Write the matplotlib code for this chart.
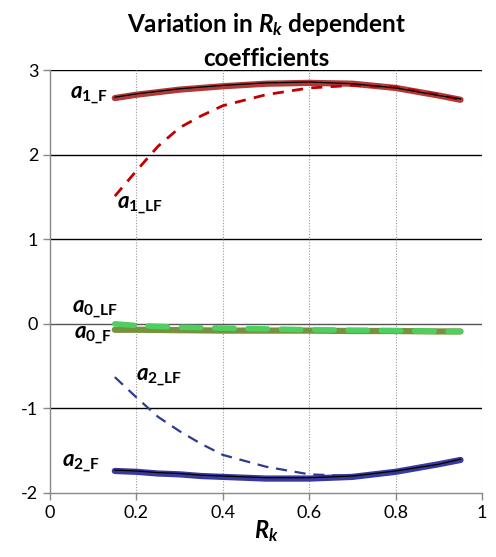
import matplotlib
matplotlib.use("Agg")
import matplotlib.pyplot as plt
import numpy as np

plt.rcParams['font.family'] = ['Lato', 'DejaVu Sans']
plt.rcParams['axes.unicode_minus'] = False
plt.rcParams['mathtext.fontset'] = 'custom'
plt.rcParams['mathtext.it'] = 'Lato:italic:bold'
plt.rcParams['mathtext.bf'] = 'Lato:bold'
plt.rcParams['mathtext.rm'] = 'Lato:bold'

rk = [0.15, 0.2, 0.25, 0.3, 0.35, 0.4, 0.5, 0.6, 0.7, 0.8, 0.9, 0.95]
a1 = [2.67, 2.71, 2.74, 2.77, 2.79, 2.81, 2.84, 2.85, 2.84, 2.79, 2.70, 2.65]
a1_F = [2.68, 2.72, 2.75, 2.78, 2.80, 2.82, 2.85, 2.86, 2.84, 2.79, 2.70, 2.66]
a1_LF = [1.51, 1.81, 2.10, 2.32, 2.46, 2.58, 2.71, 2.79, 2.82, 2.80, 2.71, 2.65]
a0_F = [-0.07, -0.07, -0.072, -0.075, -0.077, -0.08, -0.08, -0.08, -0.085, -0.085, -0.09, -0.09]
a0_LF = [0.0, -0.02, -0.03, -0.04, -0.045, -0.05, -0.06, -0.07, -0.075, -0.08, -0.09, -0.09]
a2 = [-1.74, -1.75, -1.77, -1.78, -1.80, -1.81, -1.83, -1.83, -1.81, -1.75, -1.66, -1.61]
a2_F = [-1.73, -1.74, -1.76, -1.77, -1.79, -1.80, -1.82, -1.82, -1.80, -1.74, -1.66, -1.60]
a2_LF = [-0.63, -0.87, -1.10, -1.27, -1.42, -1.55, -1.69, -1.78, -1.80, -1.76, -1.67, -1.61]

xticks = [0, 0.2, 0.4, 0.6, 0.8, 1]
xticklabels = ['0', '0.2', '0.4', '0.6', '0.8', '1']
yticks = [-2, -1, 0, 1, 2, 3]
yticklabels = ['-2', '-1', '0', '1', '2', '3']

fig = plt.figure(figsize=(4.96, 5.57), dpi=100)
ax = fig.add_axes([0.1008, 0.115, 0.8712, 0.759])

# grid lines
for y in yticks:
    if y == -2:
        continue
    ax.axhline(y, color='#555555' if y == 0 else 'black', lw=1.0, zorder=1)
for x in xticks[1:]:
    ax.axvline(x, color='#999999', lw=0.8, ls=(0, (1, 1.5)), zorder=1)

# a1
ax.plot(rk, a1, color='#b03a3a', lw=4.5, solid_capstyle='round', zorder=3)
ax.plot(rk, a1_F, color='black', lw=0.9, zorder=4)
ax.plot(rk, a1_LF, color='#c00000', lw=2.0, ls=(0, (4, 3)), zorder=3)
# a0
ax.plot(rk, a0_F, color='#76923c', lw=4.5, solid_capstyle='round', zorder=3)
ax.plot(rk, a0_LF, color='#4fcf5f', lw=4.0, ls=(0, (3.5, 2.5)), dash_capstyle='round', zorder=4)
# a2
ax.plot(rk, a2, color='#3a3a9c', lw=4.5, solid_capstyle='round', zorder=3)
ax.plot(rk, a2_F, color='black', lw=0.9, zorder=4)
ax.plot(rk, a2_LF, color='#2e3a92', lw=1.6, ls=(0, (5, 3.5)), zorder=3)

lab = dict(fontsize=16, color='black', zorder=5)
ax.text(0.135, 2.69, r'$a_{\mathbf{1\_F}}$', ha='right', va='center', **lab)
ax.text(0.155, 1.39, r'$a_{\mathbf{1\_LF}}$', ha='left', va='center', **lab)
ax.text(0.157, 0.16, r'$a_{\mathbf{0\_LF}}$', ha='right', va='center', **lab)
ax.text(0.143, -0.14, r'$a_{\mathbf{0\_F}}$', ha='right', va='center', **lab)
ax.text(0.20, -0.64, r'$a_{\mathbf{2\_LF}}$', ha='left', va='center', **lab)
ax.text(0.116, -1.66, r'$a_{\mathbf{2\_F}}$', ha='right', va='center', **lab)

ax.set_xlim(0, 1)
ax.set_ylim(-2, 3)
ax.set_xticks(xticks)
ax.set_xticklabels(xticklabels)
ax.set_yticks(yticks)
ax.set_yticklabels(yticklabels)
ax.tick_params(axis='both', direction='out', length=5, color='#888888', labelsize=13, width=1)
for s in ['top', 'right']:
    ax.spines[s].set_visible(False)
for s in ['left', 'bottom']:
    ax.spines[s].set_color('#888888')
    ax.spines[s].set_linewidth(1.0)

ax.set_xlabel(r'$R_k$', fontsize=17, labelpad=-2)
ax.set_title(r'Variation in $R_k$ dependent' + '\ncoefficients', fontsize=17.5, fontweight='bold', pad=3, linespacing=1.5)

fig.savefig('out.png', dpi=100)
